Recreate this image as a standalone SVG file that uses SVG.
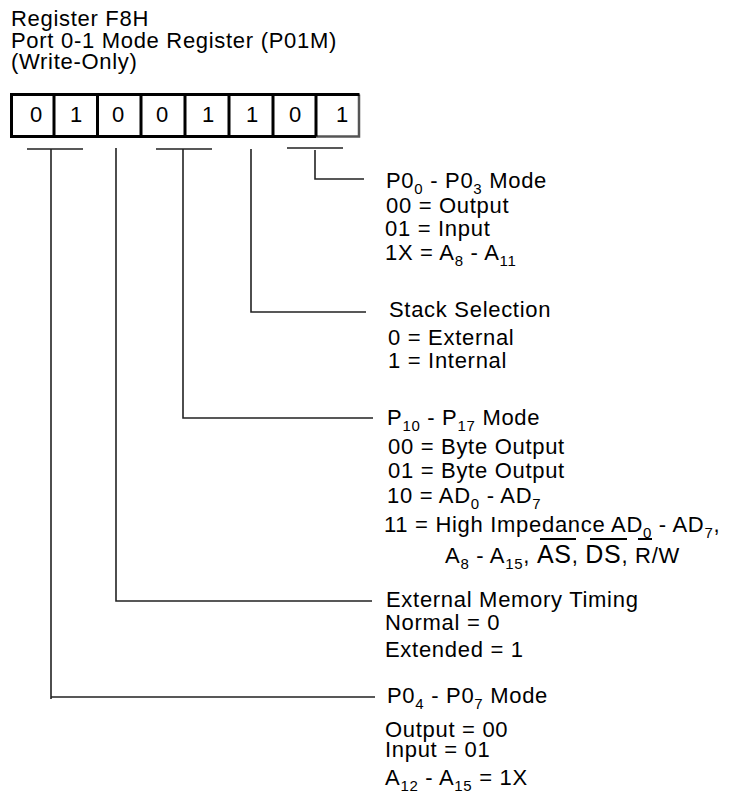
<svg xmlns="http://www.w3.org/2000/svg" width="731" height="793" viewBox="0 0 731 793">
<style>
text{font-family:"Liberation Sans",Arial,sans-serif;font-size:22px;fill:#000;letter-spacing:0.7px}
.sub{font-size:15px}
.big{font-size:25px}
.bit{text-anchor:middle;letter-spacing:0}
.box{fill:none;stroke:#000;stroke-width:3}
.box2{fill:none;stroke:#555;stroke-width:2.5}
.conn{fill:none;stroke:#222;stroke-width:1.6}
.ovl{stroke:#000;stroke-width:2}
</style>
<rect width="731" height="793" fill="#fff"/>
<g id="title">
<text x="11" y="26">Register F8H</text>
<text x="11" y="48">Port 0-1 Mode Register (P01M)</text>
<text x="11" y="69">(Write-Only)</text>
</g>
<g id="register">
<path class="box2" d="M316,136.5 H359 V94.5"/>
<path class="box" d="M359.5,94.5 H11.5 V136.5 H316 M54,94.5 V136.5 M97.5,94.5 V136.5 M141,94.5 V136.5 M185,94.5 V136.5 M229,94.5 V136.5 M273,94.5 V136.5 M316,94.5 V136.5"/>
<text class="bit" x="36" y="122">0</text>
<text class="bit" x="76" y="122">1</text>
<text class="bit" x="118" y="122">0</text>
<text class="bit" x="162" y="122">0</text>
<text class="bit" x="208" y="122">1</text>
<text class="bit" x="252" y="122">1</text>
<text class="bit" x="295" y="122">0</text>
<text class="bit" x="342" y="122">1</text>
</g>
<g id="connectors">
<path class="conn" d="M27,149 H83 M51,149 V699 M51,697 H375"/>
<path class="conn" d="M116,148 V601 H372"/>
<path class="conn" d="M156,149 H212 M183,149 V418 H373"/>
<path class="conn" d="M251,149 V312 H366"/>
<path class="conn" d="M287,148 H343 M315,150 V179 H364"/>
</g>
<g id="p00-p03">
<text x="386" y="188">P0<tspan class="sub" dy="6">0</tspan><tspan dy="-6"> - P0</tspan><tspan class="sub" dy="6">3</tspan><tspan dy="-6"> Mode</tspan></text>
<text x="386" y="213">00 = Output</text>
<text x="385" y="236">01 = Input</text>
<text x="385" y="260">1X = A<tspan class="sub" dy="6">8</tspan><tspan dy="-6"> - A</tspan><tspan class="sub" dy="6">11</tspan></text>
</g>
<g id="stack">
<text x="389" y="317">Stack Selection</text>
<text x="388" y="345">0 = External</text>
<text x="388" y="368">1 = Internal</text>
</g>
<g id="p10-p17">
<text x="387" y="425">P<tspan class="sub" dy="6">10</tspan><tspan dy="-6"> - P</tspan><tspan class="sub" dy="6">17</tspan><tspan dy="-6"> Mode</tspan></text>
<text x="388" y="454">00 = Byte Output</text>
<text x="388" y="478">01 = Byte Output</text>
<text x="387" y="503">10 = AD<tspan class="sub" dy="6">0</tspan><tspan dy="-6"> - AD</tspan><tspan class="sub" dy="6">7</tspan></text>
<text x="384" y="532">11 = High Impedance AD<tspan class="sub" dy="6">0</tspan><tspan dy="-6"> - AD</tspan><tspan class="sub" dy="6">7</tspan><tspan dy="-6">,</tspan></text>
<text x="445" y="563">A<tspan class="sub" dy="6">8</tspan><tspan dy="-6"> - A</tspan><tspan class="sub" dy="6">15</tspan><tspan dy="-6">, </tspan><tspan class="big">AS</tspan>, <tspan class="big">DS</tspan>, R/W</text>
<line class="ovl" x1="540" y1="539" x2="576" y2="539"/>
<line class="ovl" x1="590" y1="539" x2="627" y2="539"/>
<line class="ovl" x1="638" y1="539" x2="652" y2="539"/>
</g>
<g id="ext-mem">
<text x="386" y="607">External Memory Timing</text>
<text x="385" y="630">Normal = 0</text>
<text x="385" y="657">Extended = 1</text>
</g>
<g id="p04-p07">
<text x="387" y="703">P0<tspan class="sub" dy="6">4</tspan><tspan dy="-6"> - P0</tspan><tspan class="sub" dy="6">7</tspan><tspan dy="-6"> Mode</tspan></text>
<text x="385" y="737">Output = 00</text>
<text x="385" y="757">Input = 01</text>
<text x="385" y="785">A<tspan class="sub" dy="6">12</tspan><tspan dy="-6"> - A</tspan><tspan class="sub" dy="6">15</tspan><tspan dy="-6"> = 1X</tspan></text>
</g>
</svg>
